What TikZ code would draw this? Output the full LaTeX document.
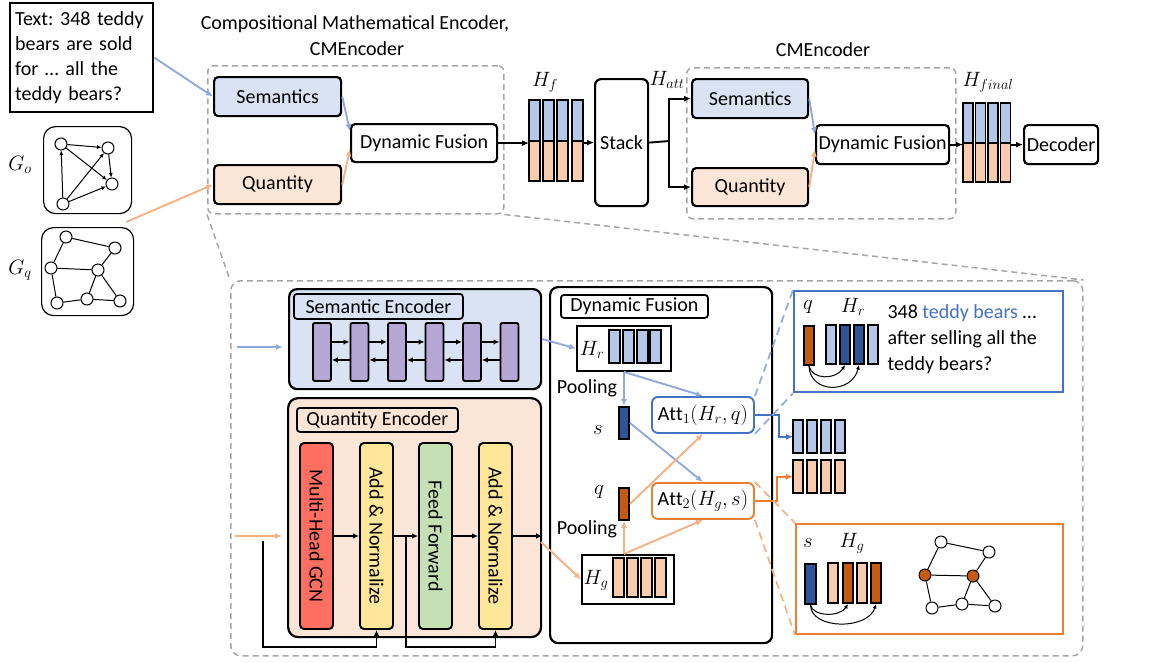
\documentclass[tikz,border=0pt]{standalone}
\usepackage{amsmath}
\usepackage{fontspec}
\setmainfont{Carlito}
\usepackage{tikz}
\usetikzlibrary{arrows.meta}
\frenchspacing

\definecolor{semfill}{HTML}{DAE3F3}
\definecolor{qtyfill}{HTML}{FBE5D6}
\definecolor{barblue}{HTML}{B4C7E7}
\definecolor{barorange}{HTML}{F8CBAD}
\definecolor{arrblue}{HTML}{8FAADC}
\definecolor{arrorange}{HTML}{F4B183}
\definecolor{darkblue}{HTML}{2F5597}
\definecolor{darkorange}{HTML}{C55A11}
\definecolor{attblue}{HTML}{4472C4}
\definecolor{attorange}{HTML}{ED7D31}
\definecolor{purplebar}{HTML}{B4A7D6}
\definecolor{gcnred}{HTML}{FF6F61}
\definecolor{normyellow}{HTML}{FFE699}
\definecolor{ffgreen}{HTML}{C5E0B4}
\definecolor{dashgray}{HTML}{A6A6A6}

\tikzset{
  every node/.style={font=\fontsize{20}{24}\selectfont},
  blk/.style={draw, line width=2.2pt, rounded corners=4pt, inner sep=0pt, anchor=north west},
  lbl/.style={draw, line width=1.8pt, rounded corners=3pt, inner sep=0pt, anchor=north west},
  dashbox/.style={draw=dashgray, line width=1.5pt, dash pattern=on 6pt off 4pt, rounded corners=6pt, inner sep=0pt, anchor=north west},
  dashline/.style={dashgray, line width=1.5pt, dash pattern=on 6pt off 4pt},
  arr/.style={-{Latex[length=7pt,width=6pt]}, line width=1.9pt},
  sarr/.style={-{Latex[length=6pt,width=5.5pt]}, line width=1.7pt},
  garr/.style={-{Latex[length=4.5pt,width=4pt]}, line width=1pt},
  gnode/.style={circle, draw, fill=white, line width=1pt, minimum size=12pt, inner sep=0pt},
  bar/.style={draw, line width=1.9pt},
  pbar/.style={draw, fill=purplebar, line width=1.9pt, rounded corners=2pt, minimum width=18, minimum height=58, inner sep=0pt, anchor=north west},
  layer/.style={draw, line width=1.9pt, rounded corners=4pt, rotate=-90, minimum width=186, minimum height=33, inner sep=0pt},
  vec/.style={inner sep=0pt, anchor=north west}
}

\begin{document}
\begin{tikzpicture}[x=1pt,y=-1pt]
\useasboundingbox (0,0) rectangle (1153,662);

% input text
\node[draw, line width=2.2pt, anchor=north west, minimum width=143, minimum height=109, inner sep=0pt, text width=133, align=left, font=\fontsize{20}{25}\selectfont] (txt) at (9,2) {Text: 348 teddy\\bears are sold\\for … all the\\teddy bears?};

% graph G_o
\node[draw, line width=1.2pt, rounded corners=12pt, anchor=north west, minimum width=88, minimum height=87, inner sep=0pt] (go) at (43,126) {};
\node (golab) at (20,165) {$G_o$};
\node[gnode] (o1) at (61,144) {};
\node[gnode] (o2) at (108,148) {};
\node[gnode] (o3) at (112,184) {};
\node[gnode] (o4) at (63,204) {};
\draw[garr] (o1) -- (o2);
\draw[garr] (o1) -- (o3);
\draw[garr] (o2) -- (o3);
\draw[garr] (o4) -- (o1);
\draw[garr] (o4) -- (o2);
\draw[garr] (o4) -- (o3);

% graph G_q
\node[draw, line width=1.2pt, rounded corners=12pt, anchor=north west, minimum width=92, minimum height=88, inner sep=0pt] (gq) at (41,227) {};
\node (gqlab) at (20,270) {$G_q$};
\node[gnode] (q1) at (66,237) {};
\node[gnode] (q2) at (115,248) {};
\node[gnode] (q3) at (51,268) {};
\node[gnode] (q4) at (98,270) {};
\node[gnode] (q5) at (57,303) {};
\node[gnode] (q6) at (87,299) {};
\node[gnode] (q7) at (120,301) {};
\draw[line width=1pt] (q1) -- (q2) (q1) -- (q3) (q2) -- (q4) (q3) -- (q4) (q3) -- (q5) (q5) -- (q6) (q6) -- (q4) (q6) -- (q7) (q4) -- (q7);

% first CMEncoder
\node (title) at (355,24) {Compositional Mathematical Encoder,};
\node (cmenc1) at (357,49) {CMEncoder};
\node[dashbox, minimum width=296, minimum height=148] (enc1) at (207,65) {};
\node[blk, fill=semfill, minimum width=127, minimum height=39] (sem1) at (213,76) {Semantics};
\node[blk, fill=qtyfill, minimum width=127, minimum height=39] (qty1) at (213,164) {Quantity};
\node[blk, fill=white, minimum width=146, minimum height=38] (df1) at (350,123) {Dynamic Fusion};
\draw[arr, arrblue] (txt.east) -- (sem1.west);
\draw[arr, arrorange] ([shift={(-8,-5)}]gq.north east) -- (qty1.west);
\draw[arr, arrblue] (sem1.east) -- ([yshift=12pt]df1.west);
\draw[arr, arrorange] (qty1.east) -- ([yshift=-6pt]df1.west);

% H_f
\node[vec, minimum width=54, minimum height=81] (hf) at (529,100) {};
\node (hflab) at (545,82) {$H_f$};
\draw[bar, fill=barblue] (529,100) rectangle (540,141);
\draw[bar, fill=barorange] (529,141) rectangle (540,181);
\draw[bar, fill=barblue] (543,100) rectangle (554,141);
\draw[bar, fill=barorange] (543,141) rectangle (554,181);
\draw[bar, fill=barblue] (557,100) rectangle (568,141);
\draw[bar, fill=barorange] (557,141) rectangle (568,181);
\draw[bar, fill=barblue] (572,100) rectangle (583,141);
\draw[bar, fill=barorange] (572,141) rectangle (583,181);
\draw[arr] (df1.east) -- (df1.east -| hf.west);
\node[blk, rounded corners=6pt, minimum width=53, minimum height=127] (stack) at (594,78) {Stack};
\draw[arr] (hf.east |- stack.west) -- (stack.west);

% second CMEncoder
\node (hattlab) at (667,80) {$H_{att}$};
\node (cmenc2) at (823,50) {CMEncoder};
\node[dashbox, minimum width=269, minimum height=151] (enc2) at (686,67) {};
\node[blk, fill=semfill, minimum width=116, minimum height=39] (sem2) at (691,78) {Semantics};
\node[blk, fill=qtyfill, minimum width=116, minimum height=38] (qty2) at (691,167) {Quantity};
\node[blk, fill=white, minimum width=133, minimum height=39] (df2) at (815,124) {Dynamic Fusion};
\coordinate (split) at (669,141);
\draw[line width=1.9pt] (stack.east) -- (split);
\draw[arr] (split) |- (sem2.west);
\draw[arr] (split) |- (qty2.west);
\draw[arr, arrblue] (sem2.east) -- ([yshift=10pt]df2.west);
\draw[arr, arrorange] (qty2.east) -- ([yshift=-5pt]df2.west);

% H_final and decoder
\node[vec, minimum width=47, minimum height=79] (hfinal) at (963,103) {};
\node (hfinallab) at (988,82) {$H_{final}$};
\draw[bar, fill=barblue] (963,103) rectangle (973,143);
\draw[bar, fill=barorange] (963,143) rectangle (973,182);
\draw[bar, fill=barblue] (975.5,103) rectangle (985.5,143);
\draw[bar, fill=barorange] (975.5,143) rectangle (985.5,182);
\draw[bar, fill=barblue] (988,103) rectangle (998,143);
\draw[bar, fill=barorange] (988,143) rectangle (998,182);
\draw[bar, fill=barblue] (1000.5,103) rectangle (1010.5,143);
\draw[bar, fill=barorange] (1000.5,143) rectangle (1010.5,182);
\node[blk, fill=white, minimum width=74, minimum height=39] (dec) at (1023,124) {Decoder};
\draw[arr] (df2.east) -- (df2.east -| hfinal.west);
\draw[arr] (hfinal.east |- dec.west) -- (dec.west);

% detail frame
\node[dashbox, rounded corners=10pt, minimum width=852, minimum height=375] (detail) at (230,280) {};
\draw[dashline] (enc1.south west) -- (detail.north west);
\draw[dashline] (enc1.south east) -- (detail.north east);

% Semantic Encoder
\node[blk, fill=semfill, rounded corners=8pt, minimum width=252, minimum height=100] (semenc) at (288,288) {};
\node[lbl, fill=semfill, minimum width=169, minimum height=25] (semlab) at (293,293) {Semantic Encoder};
\node[pbar] (se1) at (312,322) {};
\node[pbar] (se2) at (349.5,322) {};
\node[pbar] (se3) at (387,322) {};
\node[pbar] (se4) at (424.5,322) {};
\node[pbar] (se5) at (462,322) {};
\node[pbar] (se6) at (499.5,322) {};
\draw[sarr] ([yshift=10pt]se1.east) -- ([yshift=10pt]se2.west);
\draw[sarr] ([yshift=10pt]se2.east) -- ([yshift=10pt]se3.west);
\draw[sarr] ([yshift=10pt]se3.east) -- ([yshift=10pt]se4.west);
\draw[sarr] ([yshift=10pt]se4.east) -- ([yshift=10pt]se5.west);
\draw[sarr] ([yshift=10pt]se5.east) -- ([yshift=10pt]se6.west);
\draw[sarr] ([yshift=-8pt]se2.west) -- ([yshift=-8pt]se1.east);
\draw[sarr] ([yshift=-8pt]se3.west) -- ([yshift=-8pt]se2.east);
\draw[sarr] ([yshift=-8pt]se4.west) -- ([yshift=-8pt]se3.east);
\draw[sarr] ([yshift=-8pt]se5.west) -- ([yshift=-8pt]se4.east);
\draw[sarr] ([yshift=-8pt]se6.west) -- ([yshift=-8pt]se5.east);
\coordinate (semin) at (237,347);
\draw[arr, arrblue, shorten >=5pt] (semin) -- (semin -| semenc.west);

% Quantity Encoder
\node[blk, fill=qtyfill, rounded corners=10pt, minimum width=253, minimum height=239] (qtyenc) at (287,397) {};
\node[lbl, fill=qtyfill, minimum width=161, minimum height=24] (qtylab) at (296,407) {Quantity Encoder};
\node[layer, fill=gcnred] (gcn) at (316.5,536) {Multi-Head GCN};
\node[layer, fill=normyellow] (an1) at (376.5,536) {Add \& Normalize};
\node[layer, fill=ffgreen] (ff) at (435.5,536) {Feed Forward};
\node[layer, fill=normyellow] (an2) at (495.5,536) {Add \& Normalize};
\draw[sarr] (gcn) -- (an1);
\draw[sarr] (an1) -- (ff);
\draw[sarr] (ff) -- (an2);
\draw[sarr] (an2) -- (an2 -| qtyenc.east);
\coordinate (qtyin) at (235,536);
\draw[arr, arrorange, shorten >=5pt] (qtyin) -- (qtyin -| qtyenc.west);
% residuals
\coordinate (res1) at (263,541);
\coordinate (res1low) at (263,647);
\draw[sarr] (res1) -- (res1low) -| (an1);
\coordinate (res2) at (406,536);
\coordinate (res2low) at (406,647);
\draw[sarr] (res2) -- (res2low) -| (an2);

% Dynamic Fusion detail
\node[blk, fill=white, rounded corners=8pt, minimum width=222, minimum height=356] (dfbox) at (549,286) {};
\node[lbl, minimum width=147, minimum height=23] (dflab) at (560,294) {Dynamic Fusion};
\node[vec, draw, line width=1.9pt, minimum width=94, minimum height=45] (hr) at (576,325) {};
\node (hrlab) at (592,350) {$H_r$};
\draw[bar, fill=barblue] (609,330) rectangle (620,363);
\draw[bar, fill=barblue] (623,330) rectangle (634,363);
\draw[bar, fill=barblue] (637,330) rectangle (648,363);
\draw[bar, fill=barblue] (650,330) rectangle (661,363);
\node[vec, draw, line width=1.9pt, minimum width=92, minimum height=49] (hg) at (581,554) {};
\node (hglab) at (596,580) {$H_g$};
\draw[bar, fill=barorange] (613,558) rectangle (624,597);
\draw[bar, fill=barorange] (627,558) rectangle (638,597);
\draw[bar, fill=barorange] (641,558) rectangle (652,597);
\draw[bar, fill=barorange] (655,558) rectangle (666,597);
\node (pool1) at (587,388) {Pooling};
\node (pool2) at (587,529) {Pooling};
\node (slab) at (598,430) {$s$};
\node (qlab) at (599,492) {$q$};
\node[vec, draw, fill=darkblue, line width=1.9pt, minimum width=10, minimum height=32] (sbar) at (618,406) {};
\node[vec, draw, fill=darkorange, line width=1.9pt, minimum width=10, minimum height=32] (qbar) at (618,487) {};
\node[blk, draw=attblue, fill=white, line width=1.9pt, rounded corners=6pt, minimum width=102, minimum height=36] (att1) at (651,396) {$\mathrm{Att}_1(H_r,q)$};
\node[blk, draw=attorange, fill=white, line width=1.9pt, rounded corners=6pt, minimum width=102, minimum height=36] (att2) at (651,482) {$\mathrm{Att}_2(H_g,s)$};
\draw[arr, arrblue] (semenc.east) -- (hr.west);
\coordinate (qtyout) at (541,542);
\draw[arr, arrorange] (qtyout) -- (hg.west);
\draw[arr, arrblue] (hr.south -| sbar) -- (sbar.north);
\draw[arr, arrblue] (hr.south -| sbar) -- (att1.north);
\draw[arr, arrblue] (sbar.east) -- (att2.north);
\draw[arr, arrorange] (qbar.east) -- (att1.south);
\draw[arr, arrorange] (hg.north -| qbar) -- (qbar.south);
\draw[arr, arrorange] (hg.north -| qbar) -- (att2.south);

% outputs of attention
\node[vec, minimum width=52, minimum height=33] (vecsem) at (793,420) {};
\node[vec, minimum width=52, minimum height=33] (vecqty) at (793,460) {};
\draw[bar, fill=barblue] (793,420) rectangle (803,453);
\draw[bar, fill=barblue] (807,420) rectangle (817,453);
\draw[bar, fill=barblue] (821,420) rectangle (831,453);
\draw[bar, fill=barblue] (835,420) rectangle (845,453);
\draw[bar, fill=barorange] (793,460) rectangle (803,493);
\draw[bar, fill=barorange] (807,460) rectangle (817,493);
\draw[bar, fill=barorange] (821,460) rectangle (831,493);
\draw[bar, fill=barorange] (835,460) rectangle (845,493);
\draw[arr, attblue] (att1.east) -- ++(24,0) |- (vecsem.west);
\draw[arr, attorange] (att2.east) -- ++(22,0) |- (vecqty.west);

% example of Att_1
\node[vec, draw=attblue, fill=white, line width=2.2pt, minimum width=269, minimum height=101] (ex1) at (793,290) {};
\draw[arrblue, line width=1.7pt, dash pattern=on 8pt off 5pt] (att1.north east) -- (ex1.north west);
\draw[arrblue, line width=1.7pt, dash pattern=on 8pt off 5pt] (att1.south east) -- (ex1.south west);
\node (ex1q) at (808,307) {$q$};
\node (ex1hr) at (853,307) {$H_r$};
\node[vec, draw, fill=darkorange, line width=1.9pt, minimum width=10, minimum height=39] (ex1qbar) at (803,325) {};
\draw[bar, fill=barblue] (826,325) rectangle (836,364);
\draw[bar, fill=darkblue] (840,325) rectangle (850,364);
\draw[bar, fill=darkblue] (854,325) rectangle (864,364);
\draw[bar, fill=barblue] (868,325) rectangle (878,364);
\draw[garr] (ex1qbar.south) .. controls (812,380) and (836,380) .. (845,365);
\draw[garr] (ex1qbar.south) .. controls (810,394) and (852,394) .. (859,365);
\node[anchor=west, align=left, font=\fontsize{20}{26}\selectfont] (ex1txt) at (884,339) {348 \textcolor{attblue}{teddy bears} …\\after selling all the\\teddy bears?};

% example of Att_2
\node[vec, draw=attorange, fill=white, line width=2.2pt, minimum width=267, minimum height=110] (ex2) at (795,523) {};
\draw[arrorange, line width=1.7pt, dash pattern=on 8pt off 5pt] (att2.north east) -- (ex2.north west);
\draw[arrorange, line width=1.7pt, dash pattern=on 8pt off 5pt] (att2.south east) -- (ex2.south west);
\node (ex2s) at (808,543) {$s$};
\node (ex2hg) at (852,543) {$H_g$};
\node[vec, draw, fill=darkblue, line width=1.9pt, minimum width=11, minimum height=40] (ex2sbar) at (804,563) {};
\draw[bar, fill=barorange] (828,563) rectangle (838,603);
\draw[bar, fill=darkorange] (843,563) rectangle (853,603);
\draw[bar, fill=barorange] (857,563) rectangle (867,603);
\draw[bar, fill=darkorange] (871,563) rectangle (881,603);
\draw[garr] (ex2sbar.south) .. controls (813,617) and (840,617) .. (848,604);
\draw[garr] (ex2sbar.south) .. controls (811,630) and (868,630) .. (876,604);
\node[gnode] (p1) at (941,542) {};
\node[gnode] (p2) at (989,552) {};
\node[gnode, fill=darkorange] (p3) at (925,575) {};
\node[gnode, fill=darkorange] (p4) at (973,576) {};
\node[gnode] (p5) at (932,608) {};
\node[gnode] (p6) at (962,604) {};
\node[gnode] (p7) at (995,606) {};
\draw[line width=1pt] (p1) -- (p2) (p1) -- (p3) (p2) -- (p4) (p3) -- (p4) (p3) -- (p5) (p5) -- (p6) (p6) -- (p4) (p6) -- (p7) (p4) -- (p7);

\end{tikzpicture}
\end{document}
